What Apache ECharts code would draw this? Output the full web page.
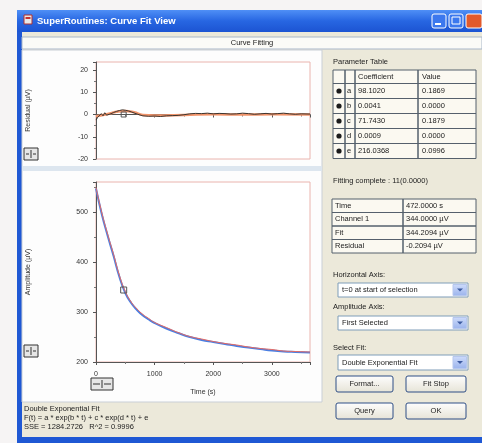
<!DOCTYPE html>
<html>
<head>
<meta charset="utf-8">
<script src="https://cdn.jsdelivr.net/npm/echarts@6/dist/echarts.min.js"></script>
<style>
  html, body { margin: 0; padding: 0; background: #f6f4f4; }
  #chart { width: 482px; height: 443px; }
</style>
</head>
<body>
<div id="chart"></div>
<script>
// measured channel and double exponential fit (time in s, amplitude in µV)
const times = [0, 100, 200, 300, 400, 500, 600, 700, 800, 900, 1000, 1200, 1400, 1600, 1800, 2000, 2200, 2400, 2600, 2800, 3000, 3200, 3400, 3650];
const fitValues = [547, 495, 452, 412, 370, 338, 318, 304, 293, 285, 278, 267, 258, 250, 244, 240, 236, 232, 229, 226, 223, 221, 220, 219];
const measValues = [549, 498, 455, 415, 373, 341, 320, 306, 295, 287, 279, 269, 259, 251, 246, 241, 237, 234, 230, 227, 225, 222, 221, 220];

// residuals
const resTimes = [0, 30, 60, 90, 120, 150, 180, 210, 240, 270, 300, 350, 400, 450, 500, 550, 600, 700, 800, 900, 1000, 1100, 1200, 1300, 1400, 1500, 1600, 1700, 1800, 1900, 2000, 2100, 2200, 2300, 2400, 2500, 2600, 2700, 2800, 2900, 3000, 3100, 3200, 3300, 3400, 3500, 3650];
const resValues = [-2.5, -1.2, -2.0, 0.4, -0.6, 0.8, -0.3, 0.5, 0.2, 1.0, 0.9, 1.4, 1.8, 2.1, 1.9, 1.6, 1.2, 0.2, -0.6, -0.8, -0.7, -0.9, -0.6, -0.5, -0.4, -0.1, 0.3, 0.5, 0.4, 0.6, 0.3, 0.5, 0.4, 0.2, 0.3, 0.6, 0.4, 0.1, 0.3, 0.5, 0.2, 0.4, 0.6, 0.3, 0.1, 0.3, 0.2];
const smoothTimes = [0, 200, 350, 500, 650, 800, 1000, 1500, 2000, 2500, 3000, 3650];
const smoothValues = [-0.8, 0.2, 1.2, 1.6, 1.0, -0.2, -0.4, -0.2, 0.1, 0.0, 0.1, 0.0];

const cursorTime = 472;
const cursorValue = 344;

// panel texts
const paramNames = ['a', 'b', 'c', 'd', 'e'];
const paramCoef = ['98.1020', '0.0041', '71.7430', '0.0009', '216.0368'];
const paramError = ['0.1869', '0.0000', '0.1879', '0.0000', '0.0996'];
const readoutNames = ['Time', 'Channel 1', 'Fit', 'Residual'];
const readoutValues = ['472.0000 s', '344.0000 µV', '344.2094 µV', '-0.2094 µV'];

const FONT = '"Liberation Sans", "DejaVu Sans", sans-serif';

function rect(x, y, w, h, fill, stroke, extra) {
  return Object.assign({
    type: 'rect', z: -5,
    shape: { x: x, y: y, width: w, height: h },
    style: { fill: fill, stroke: stroke || null, lineWidth: 1 }
  }, extra || {});
}
function txt(x, y, s, size, color, align, weight) {
  return {
    type: 'text', z: 5, x: x, y: y,
    style: {
      text: s, fill: color || '#222',
      font: (weight || 'normal') + ' ' + (size || 7.5) + 'px ' + FONT,
      textAlign: align || 'left', align: align || 'left',
      textVerticalAlign: 'middle', verticalAlign: 'middle'
    }
  };
}
function dropdown(x, y, w, h, label) {
  return [
    rect(x, y, w, h, '#ffffff', '#7f9db9', { z: 1 }),
    rect(x + w - 15, y + 1.5, 13.5, h - 3, new echarts.graphic.LinearGradient(0, 0, 0, 1, [
      { offset: 0, color: '#cfdcfb' }, { offset: 1, color: '#9ab3ec' }]), '#b6c7ee', { z: 2 }),
    { type: 'polygon', z: 3, shape: { points: [[x + w - 11, y + h / 2 - 1.5], [x + w - 5, y + h / 2 - 1.5], [x + w - 8, y + h / 2 + 1.5]] }, style: { fill: '#3c5aa0' } },
    txt(x + 4, y + h / 2, label, 7.5, '#222')
  ];
}
function button(x, y, w, h, label) {
  return [
    rect(x, y, w, h, new echarts.graphic.LinearGradient(0, 0, 0, 1, [
      { offset: 0, color: '#fefefe' }, { offset: 1, color: '#e6e3d6' }]), '#2f4f86', { z: 1, shape: { x: x, y: y, width: w, height: h, r: 2 } }),
    txt(x + w / 2, y + h / 2, label, 7.5, '#222', 'center')
  ];
}
function iconBox(x, y, w, h) {
  return [
    rect(x, y, w, h, '#e6e6e6', '#333', { z: 1 }),
    rect(x + w / 2 - 0.5, y + 2, 1, h - 4, '#333', null, { z: 2 }),
    rect(x + 2, y + h / 2 - 0.5, w / 2 - 4, 1, '#333', null, { z: 2 }),
    rect(x + w / 2 + 2, y + h / 2 - 0.5, w / 2 - 4, 1, '#333', null, { z: 2 })
  ];
}

const graphic = [];
// window frame and title bar
graphic.push(rect(17, 10, 470, 433, '#1f58d4', null, { z: -10 }));
graphic.push(rect(17, 10, 470, 22, new echarts.graphic.LinearGradient(0, 0, 0, 1, [
  { offset: 0, color: '#4f8ff6' }, { offset: 0.5, color: '#2766e2' }, { offset: 1, color: '#1c54d2' }]), null, { z: -9 }));
graphic.push(rect(24, 15, 8, 9, '#e8e8e8', '#b03030', { z: 1 }));
graphic.push(rect(25.5, 17, 5, 2, '#c83030', null, { z: 2 }));
graphic.push(txt(37, 21, 'SuperRoutines: Curve Fit View', 9.5, '#ffffff', 'left', 'bold'));
graphic.push(rect(432, 14, 14, 14, '#3c78ee', '#ffffff', { z: 1, shape: { x: 432, y: 14, width: 14, height: 14, r: 2 } }));
graphic.push(rect(435, 23, 6, 2, '#ffffff', null, { z: 2 }));
graphic.push(rect(449, 14, 14, 14, '#3c78ee', '#ffffff', { z: 1, shape: { x: 449, y: 14, width: 14, height: 14, r: 2 } }));
graphic.push(rect(452, 17, 8, 7, null, '#ffffff', { z: 2 }));
graphic.push(rect(466, 14, 16, 14, '#e25a2c', '#ffffff', { z: 1, shape: { x: 466, y: 14, width: 16, height: 14, r: 2 } }));
// body
graphic.push(rect(22, 32, 460, 405, '#ece9da', null, { z: -8 }));
graphic.push(rect(22, 37, 460, 12, '#fbfbf7', '#a9b7c8', { z: -7 }));
graphic.push(txt(252, 43, 'Curve Fitting', 7.5, '#222', 'center'));
// left plot panel
graphic.push(rect(22, 50, 300, 352, '#fdfdfd', '#c9cfd6', { z: -7 }));
graphic.push(rect(22, 166, 300, 5, '#dde6ef', null, { z: -6 }));
graphic.push.apply(graphic, iconBox(24, 148, 14, 12));
graphic.push.apply(graphic, iconBox(24, 345, 14, 12));
graphic.push.apply(graphic, iconBox(91, 378, 22, 12));

// parameter table
graphic.push(txt(333, 62, 'Parameter Table', 7.5, '#222'));
const tCols = [333, 345, 355, 418, 476];
const tRows = [70, 83.5, 98.5, 113.5, 128.5, 143.5, 158.5];
graphic.push(rect(333, 70, 143, 88.5, '#fbf9f1', '#55606c', { z: 0 }));
tRows.slice(1, -1).forEach(function (y) { graphic.push(rect(333, y, 143, 0.01, null, '#55606c', { z: 1 })); });
tCols.slice(1, -1).forEach(function (x) { graphic.push(rect(x, 70, 0.01, 88.5, null, '#55606c', { z: 1 })); });
graphic.push(txt(358, 77, 'Coefficient', 7.5));
graphic.push(txt(422, 77, 'Value', 7.5));
paramNames.forEach(function (n, i) {
  const cy = (tRows[i + 1] + tRows[i + 2]) / 2;
  graphic.push({ type: 'circle', z: 3, shape: { cx: 339, cy: cy, r: 2.6 }, style: { fill: '#1c1c1c' } });
  graphic.push(txt(347, cy, n, 7.5));
  graphic.push(txt(358, cy, paramCoef[i], 7.5));
  graphic.push(txt(422, cy, paramError[i], 7.5));
});
graphic.push(txt(333, 181, 'Fitting complete : 11(0.0000)', 7.5));

// readout table
const rRows = [199, 212.5, 226, 239.5, 253];
graphic.push(rect(332, 199, 144, 54, '#fbf9f1', '#55606c', { z: 0 }));
rRows.slice(1, -1).forEach(function (y) { graphic.push(rect(332, y, 144, 0.01, null, '#55606c', { z: 1 })); });
graphic.push(rect(403, 199, 0.01, 54, null, '#55606c', { z: 1 }));
readoutNames.forEach(function (n, i) {
  const cy = (rRows[i] + rRows[i + 1]) / 2;
  graphic.push(txt(335, cy, n, 7.5));
  graphic.push(txt(406, cy, readoutValues[i], 7.5));
});

graphic.push(txt(333, 275, 'Horizontal Axis:', 7.5));
graphic.push.apply(graphic, dropdown(338, 283, 130, 14, 't=0 at start of selection'));
graphic.push(txt(333, 307, 'Amplitude Axis:', 7.5));
graphic.push.apply(graphic, dropdown(338, 316, 130, 14, 'First Selected'));
graphic.push(txt(333, 348, 'Select Fit:', 7.5));
graphic.push.apply(graphic, dropdown(338, 355, 130, 15, 'Double Exponential Fit'));
graphic.push.apply(graphic, button(336, 376, 57, 16, 'Format...'));
graphic.push.apply(graphic, button(406, 376, 60, 16, 'Fit Stop'));
graphic.push.apply(graphic, button(336, 403, 57, 16, 'Query'));
graphic.push.apply(graphic, button(406, 403, 60, 16, 'OK'));

// fit description
graphic.push(txt(24, 409, 'Double Exponential Fit', 7.5));
graphic.push(txt(24, 418, 'F(t) = a * exp(b * t) + c * exp(d * t) + e', 7.5));
graphic.push(txt(24, 427, 'SSE = 1284.2726   R^2 = 0.9996', 7.5));

const zip = function (xs, ys) { return xs.map(function (x, i) { return [x, ys[i]]; }); };

const axisText = { fontSize: 7, color: '#333', fontFamily: FONT };
const axisLine = { show: true, lineStyle: { color: '#555', width: 1 } };
const plain = function (v) { return String(v); };

const chart = echarts.init(document.getElementById('chart'));
chart.setOption({
  animation: false,
  backgroundColor: '#f6f4f4',
  graphic: graphic,
  grid: [
    { left: 96, top: 62, width: 214, height: 97, show: true, backgroundColor: '#ffffff', borderColor: '#eab4ae', borderWidth: 1 },
    { left: 96, top: 182, width: 214, height: 180, show: true, backgroundColor: '#ffffff', borderColor: '#eab4ae', borderWidth: 1 }
  ],
  xAxis: [
    {
      gridIndex: 0, type: 'value', min: 0, max: 3650, interval: 1000,
      axisLine: axisLine, axisTick: { length: 3, lineStyle: { color: '#555' } },
      minorTick: { show: true, splitNumber: 2, length: 2, lineStyle: { color: '#777' } },
      axisLabel: { show: false }, splitLine: { show: false }
    },
    {
      gridIndex: 1, type: 'value', min: 0, max: 3650, interval: 1000,
      name: 'Time (s)', nameLocation: 'middle', nameGap: 27, nameTextStyle: axisText,
      axisLine: axisLine, axisTick: { length: 3, lineStyle: { color: '#555' } },
      minorTick: { show: true, splitNumber: 2, length: 2, lineStyle: { color: '#777' } },
      axisLabel: Object.assign({ margin: 9, showMaxLabel: false, formatter: plain }, axisText), splitLine: { show: false }
    }
  ],
  yAxis: [
    {
      gridIndex: 0, type: 'value', min: -20, max: 23.6, interval: 10,
      name: 'Residual (µV)', nameLocation: 'middle', nameGap: 64, nameRotate: 90, nameTextStyle: axisText,
      axisLine: axisLine, axisTick: { length: 3, lineStyle: { color: '#555' } },
      minorTick: { show: true, splitNumber: 2, length: 2, lineStyle: { color: '#777' } },
      axisLabel: Object.assign({ margin: 8, showMaxLabel: false, formatter: plain }, axisText), splitLine: { show: false }
    },
    {
      gridIndex: 1, type: 'value', min: 200, max: 560, interval: 100,
      name: 'Amplitude (µV)', nameLocation: 'middle', nameGap: 64, nameRotate: 90, nameTextStyle: axisText,
      axisLine: axisLine, axisTick: { length: 3, lineStyle: { color: '#555' } },
      minorTick: { show: true, splitNumber: 2, length: 2, lineStyle: { color: '#777' } },
      axisLabel: Object.assign({ margin: 8, showMaxLabel: false, formatter: plain }, axisText), splitLine: { show: false }
    }
  ],
  series: [
    {
      name: 'Residual trend', type: 'line', xAxisIndex: 0, yAxisIndex: 0, z: 2,
      data: zip(smoothTimes, smoothValues), smooth: true, showSymbol: false,
      lineStyle: { color: '#f2946a', width: 2.5 }
    },
    {
      name: 'Residual', type: 'line', xAxisIndex: 0, yAxisIndex: 0, z: 3,
      data: zip(resTimes, resValues), showSymbol: false,
      lineStyle: { color: '#3b3530', width: 1 },
      markPoint: {
        symbol: 'rect', symbolSize: 5, silent: true,
        itemStyle: { color: 'rgba(0,0,0,0)', borderColor: '#555', borderWidth: 1 },
        label: { show: false },
        data: [{ coord: [cursorTime, 0] }]
      }
    },
    {
      name: 'Fit', type: 'line', xAxisIndex: 1, yAxisIndex: 1, z: 2,
      data: zip(times, fitValues), smooth: true, showSymbol: false,
      lineStyle: { color: '#4b7fe2', width: 2 }
    },
    {
      name: 'Channel 1', type: 'line', xAxisIndex: 1, yAxisIndex: 1, z: 3,
      data: zip(times, measValues), smooth: true, showSymbol: false,
      lineStyle: { color: '#e66a62', width: 1 },
      markPoint: {
        symbol: 'rect', symbolSize: 6, silent: true,
        itemStyle: { color: 'rgba(0,0,0,0)', borderColor: '#555', borderWidth: 1 },
        label: { show: false },
        data: [{ coord: [cursorTime, cursorValue] }]
      }
    }
  ]
});
</script>
</body>
</html>
